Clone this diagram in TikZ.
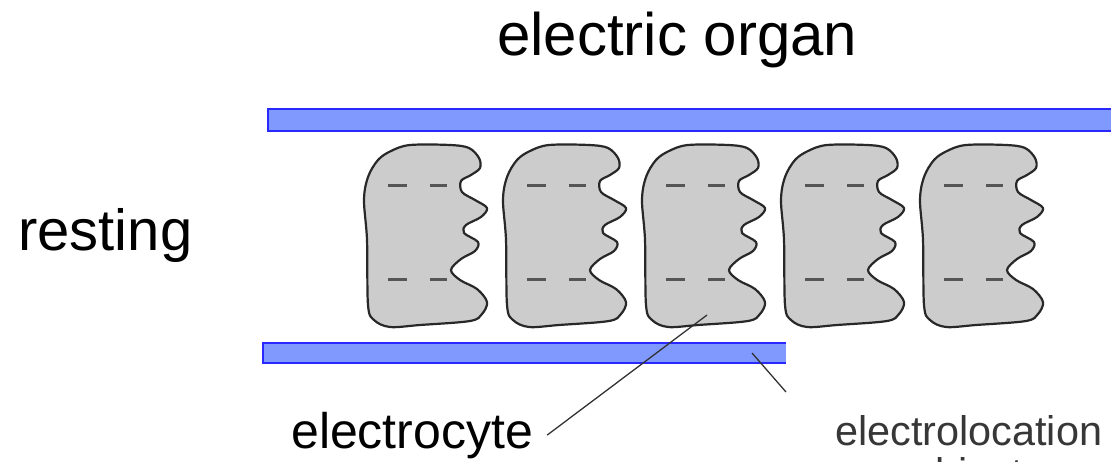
\documentclass[tikz,border=0pt]{standalone}
\usepackage{fontspec}
\setmainfont{Liberation Sans}
\definecolor{barfill}{RGB}{128,153,255}
\definecolor{barline}{RGB}{40,40,255}
\definecolor{cellfill}{RGB}{204,204,204}
\definecolor{celledge}{RGB}{40,40,40}
\definecolor{dashgray}{RGB}{85,85,85}
\definecolor{labelgray}{RGB}{55,55,55}
\begin{document}
\begin{tikzpicture}[x=1pt,y=-1pt,
  lbl/.style={inner sep=0pt, anchor=base west},
  membrane/.style={fill=barfill},
  membraneedge/.style={draw=barline, line width=2.8pt},
  cell/.style={fill=cellfill, draw=celledge, line width=2.2pt, line join=round},
  charge/.style={draw=dashgray, line width=3pt},
  pointer/.style={draw=black!80, line width=1.3pt}]
\useasboundingbox (0,0) rectangle (1111,461);

% membranes above and below the stack
\path[membrane, membraneedge] (268,109) rectangle (1125,131);
\fill[barfill] (263,343) rectangle (786,363);
\draw[membraneedge] (786,343) -- (263,343) -- (263,363) -- (786,363);

% the five electrocytes
\foreach \i in {0,...,4} {
  \begin{scope}[shift={(365+139*\i,145)}]
    \path[cell] plot[smooth cycle, tension=0.55] coordinates {
      (45,0) (85,0) (104,3) (114,13) (115,23) (106,30) (96,36) (97,47)
      (110,55) (122,63) (116,72) (101,80) (99,88) (113,97) (110,106)
      (96,114) (86,125) (95,135) (112,144) (122,157) (117,169) (105,176)
      (55,180) (25,182) (9,175) (3,160) (2,95) (-1,55) (3,32) (13,15) (26,6)};
    \draw[charge] (23,40) -- (42,40) (65,40) -- (82,40);
    \draw[charge] (23,134) -- (42,134) (65,134) -- (82,134);
  \end{scope}
}

% labels
\node[lbl] (title) at (497,55) {\fontsize{60}{62}\selectfont electric organ};
\node[lbl] (resting) at (18,250) {\fontsize{58}{60}\selectfont resting};
\node[lbl] (ecyte) at (291,448) {\fontsize{50}{52}\selectfont electrocyte};
\node[lbl, text=labelgray] (eloc) at (835,445) {\fontsize{41.4}{43}\selectfont electrolocation};
\node[inner sep=0pt, anchor=base, text=labelgray] (eloc2) at (968,487) {\fontsize{41.4}{43}\selectfont object};

% pointers
\coordinate (cellmark) at (707,315);
\coordinate (barmark) at (752,353);
\coordinate (barend) at (786,392);
\draw[pointer] ([xshift=14pt]ecyte.east) -- (cellmark);
\draw[pointer] (barmark) -- (barend);
\end{tikzpicture}
\end{document}
